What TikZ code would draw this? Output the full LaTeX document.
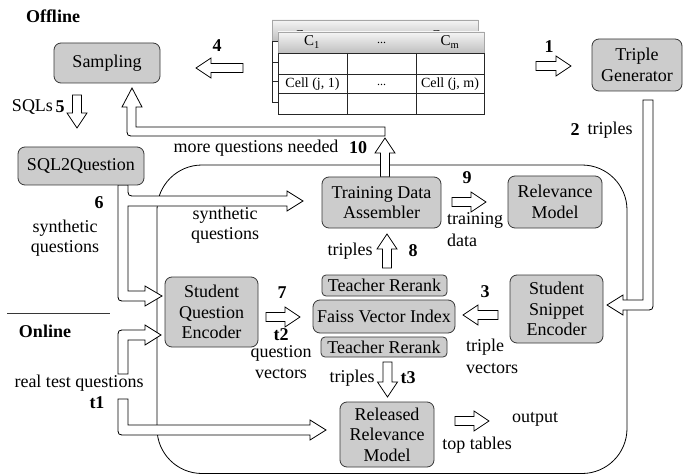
\documentclass[tikz,border=0pt]{standalone}
\usepackage{fontspec}
\setmainfont{Liberation Serif}
\definecolor{boxgray}{RGB}{204,204,204}
\definecolor{edge}{RGB}{55,55,55}
\newcommand\fs{\fontsize{18}{20.5}\selectfont}
\newcommand\hollow[3]{%
  \draw[hol, shift={#1}, rotate=#2] (0,-4.5) -- (#3-15,-4.5) -- (#3-15,-10) -- (#3,0) -- (#3-15,10) -- (#3-15,4.5) -- (0,4.5) -- cycle;}
\tikzset{
  box/.style={draw=edge, fill=boxgray, rounded corners=7pt, line width=0.8pt, align=center, inner sep=0pt, font=\fs},
  smallbox/.style={box, rounded corners=4pt},
  hol/.style={draw=black, fill=white, line width=0.8pt, line join=miter},
  lbl/.style={font=\fs, inner sep=0pt, align=center},
  num/.style={font=\fs\bfseries, inner sep=0pt},
  grid/.style={draw=black!85, line width=0.8pt},
  hdr/.style={top color=gray!8, bottom color=gray!50},
}
\begin{document}
\begin{tikzpicture}[x=1pt,y=-1pt]
\fill[white] (0,0) rectangle (683,476);
\useasboundingbox (0,0) rectangle (683,476);

% online container
\draw[line width=0.8pt, rounded corners=45pt] (157,165) rectangle (627,473.5);

% separator
\draw[line width=0.8pt, edge] (7,313) -- (110,313);

% tables (back)
\shade[hdr] (272,20) rectangle (478,41);
\draw[draw=gray!70, line width=0.6pt] (272,41) -- (272,20) -- (478,20) -- (478,41);
\draw[grid] (272,41) rectangle (478,102);
\draw[grid] (272,62) -- (478,62) (272,81) -- (478,81);
\begin{scope}
\clip (272,20) rectangle (478,32);
\node[font=\fontsize{15}{17}\selectfont, inner sep=0pt] (bc1) at (302,37) {C\textsubscript{1}};
\node[font=\fontsize{15}{17}\selectfont, inner sep=0pt] (bcm) at (440,37) {C\textsubscript{m}};
\end{scope}
% tables (front)
\shade[hdr] (278,32) rectangle (484,53);
\draw[draw=gray!70, line width=0.6pt] (278,53) -- (278,32) -- (484,32) -- (484,53);
\fill[white] (278,53) rectangle (484,114);
\draw[grid] (278,53) rectangle (484,114);
\draw[grid] (278,74) -- (484,74) (278,93) -- (484,93) (347,53) -- (347,114) (416,53) -- (416,114);
\node[font=\fontsize{15}{17}\selectfont, inner sep=0pt] (c1) at (312,42) {C\textsubscript{1}};
\node[font=\fontsize{12}{14}\selectfont, inner sep=0pt] (cd) at (381.5,43) {...};
\node[font=\fontsize{15}{17}\selectfont, inner sep=0pt] (cm) at (450,42) {C\textsubscript{m}};
\node[font=\fontsize{14}{16}\selectfont, inner sep=0pt] (r1) at (312.5,84) {Cell (j, 1)};
\node[font=\fontsize{12}{14}\selectfont, inner sep=0pt] (rd) at (381.5,85) {...};
\node[font=\fontsize{14}{16}\selectfont, inner sep=0pt] (rm) at (450,84) {Cell (j, m)};

% bent arrows
\draw[hol] (385,127) -- (136,127) -- (136,107) -- (142,107) -- (132,88) -- (122,107) -- (127,107) -- (127,128) .. controls (127,136) .. (135,136) -- (385,136) -- cycle;
\draw[hol] (643,100) -- (653,100) -- (653,302) .. controls (653,310) .. (645,310) -- (623,310) -- (623,315) -- (607,305) -- (623,295) -- (623,300) -- (643,300) -- cycle;
\draw[hol] (118,374) -- (118,338) .. controls (118,330) .. (126,330) -- (145,330) -- (145,325) -- (161,335) -- (145,345) -- (145,340) -- (128,340) -- (128,374) -- cycle;
\draw[hol] (118,399) -- (128,399) -- (128,425) -- (310,425) -- (310,420) -- (326,430) -- (310,440) -- (310,435) -- (126,435) .. controls (118,435) .. (118,427) -- cycle;
\draw[hol] (118,185) -- (118,293) .. controls (118,301) .. (126,301) -- (145,301) -- (145,306) -- (162,296) -- (145,286) -- (145,291) -- (128,291) -- (128,206) -- (287,206) -- (287,211) -- (303,201) -- (287,191) -- (287,196) -- (136,196) .. controls (128,196) .. (128,188) -- (128,185) -- cycle;

% straight hollow arrows
\hollow{(243,68)}{180}{47}
\hollow{(536,66)}{0}{35}
\hollow{(77,95)}{-90}{33}
\hollow{(266,317)}{0}{34}
\hollow{(387,268)}{90}{34}
\hollow{(385,177)}{90}{39}
\hollow{(452,202)}{0}{34}
\hollow{(498,315)}{180}{35}
\hollow{(387.5,362)}{-90}{35}
\hollow{(455,421)}{0}{34}

% boxes
\node[box, minimum width=106pt, minimum height=40pt] (samp) at (107,63) {Sampling};
\node[box, minimum width=90pt, minimum height=52pt] (tg) at (637,65) {Triple\\Generator};
\node[box, minimum width=126pt, minimum height=38pt] (sq) at (81,166) {SQL2Question};
\node[box, minimum width=93pt, minimum height=70pt] (sqe) at (211.5,312) {Student\\Question\\Encoder};
\node[box, minimum width=142pt, minimum height=33pt] (faiss) at (384,316.5) {Faiss Vector Index};
\node[smallbox, minimum width=125pt, minimum height=21pt] (tr1) at (384.5,285.5) {Teacher Rerank};
\node[smallbox, minimum width=126pt, minimum height=20pt] (tr2) at (384,347) {Teacher Rerank};
\node[box, minimum width=119pt, minimum height=51pt] (tda) at (381.5,202.5) {Training Data\\Assembler};
\node[box, minimum width=94pt, minimum height=52pt] (relm) at (555,202) {Relevance\\Model};
\node[box, minimum width=93pt, minimum height=68pt] (sse) at (556.5,309) {Student\\Snippet\\Encoder};
\node[box, minimum width=94pt, minimum height=65pt] (rrm) at (387,434.5) {Released\\Relevance\\Model};

% labels
\node[num] (offl) at (53,16) {Offline};
\node[num] (onl) at (45,331) {Online};
\node[num] (n4) at (217,46) {4};
\node[num] (n1) at (549,47) {1};
\node[lbl] (sqls) at (32.5,107) {SQLs};
\node[num] (n5) at (60,107) {5};
\node[num] (n2) at (575,130) {2};
\node[lbl] (trp2) at (610,130) {triples};
\node[lbl] (mqn) at (256,148) {more questions needed};
\node[num] (n10) at (358,148) {10};
\node[num] (n6) at (99,203) {6};
\node[lbl] (syn1) at (65,238) {synthetic\\questions};
\node[lbl] (syn2) at (225,225) {synthetic\\questions};
\node[num] (n9) at (467,178) {9};
\node[lbl, anchor=west] (trn) at (447,220) {training};
\node[lbl, anchor=west] (dat) at (447,240) {data};
\node[lbl] (trp8) at (350,251) {triples};
\node[num] (n8) at (413,251) {8};
\node[num] (n3) at (485,292) {3};
\node[num] (n7) at (282,293) {7};
\node[num] (t2) at (281,335) {t2};
\node[lbl] (qv) at (281,362) {question\\vectors};
\node[lbl, anchor=west] (tv1) at (466,347) {triple};
\node[lbl, anchor=west] (tv2) at (466,369) {vectors};
\node[lbl] (rtq) at (79,383) {real test questions};
\node[num] (t1) at (97,403) {t1};
\node[lbl] (trp3) at (352,378) {triples};
\node[num] (t3) at (408,378) {t3};
\node[lbl] (outp) at (535,419) {output};
\node[lbl] (topt) at (477,445) {top tables};
\end{tikzpicture}
\end{document}
